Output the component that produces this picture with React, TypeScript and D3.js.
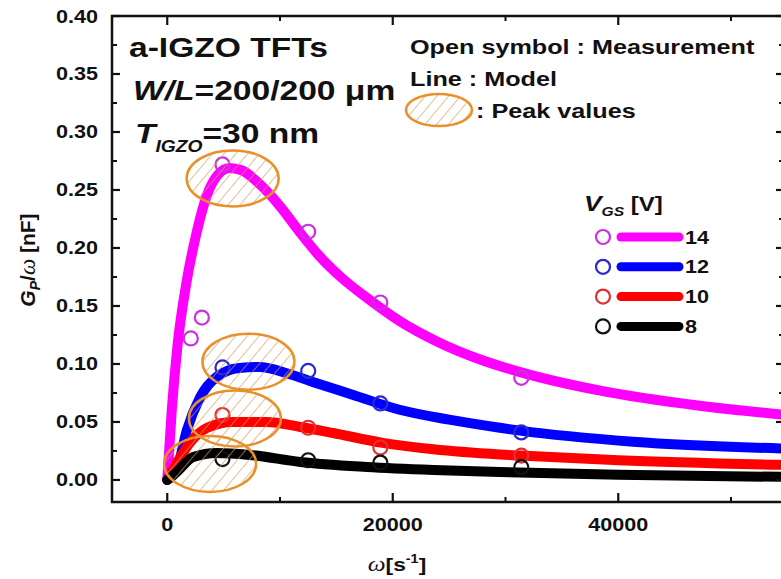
import * as d3 from "d3";
import * as React from "react";

// ---- data ----
const vgsLabels = ["14", "12", "10", "8"];
const lineColors = ["#ff00ff", "#0000ff", "#ff0000", "#000000"];
const markColors = ["#c833dd", "#2a2ad0", "#e03030", "#111111"];

// model curves [omega (1/s), Gp/omega (nF)]
const model14: [number, number][] = [
    [0, 0], [400, 0.06], [900, 0.115], [1700, 0.17], [2600, 0.213], [3500, 0.245],
    [4400, 0.262], [5500, 0.269], [6600, 0.267], [8200, 0.255], [10000, 0.236],
    [11800, 0.213], [13500, 0.193], [15500, 0.174], [17700, 0.157], [20600, 0.137],
    [24000, 0.119], [28000, 0.103], [31300, 0.093], [38400, 0.077], [47200, 0.064],
    [55000, 0.056],
];
const model12: [number, number][] = [
    [0, 0], [850, 0.009], [1740, 0.043], [2900, 0.071], [4400, 0.089], [6400, 0.0966],
    [8200, 0.0974], [10600, 0.092], [12900, 0.0845], [16500, 0.0733], [20600, 0.0605],
    [25000, 0.052], [29500, 0.045], [31300, 0.0425], [41300, 0.033], [55000, 0.027],
];
const model10: [number, number][] = [
    [0, 0], [850, 0.0147], [2000, 0.032], [3500, 0.0448], [5800, 0.05], [8800, 0.05],
    [11800, 0.0457], [14700, 0.0405], [19100, 0.032], [23600, 0.0265], [29500, 0.022],
    [31300, 0.021], [40000, 0.017], [55000, 0.0129],
];
const model8: [number, number][] = [
    [0, 0], [850, 0.0069], [2300, 0.0198], [4400, 0.0233], [7300, 0.0216], [11800, 0.0155],
    [17700, 0.0112], [23600, 0.0086], [29500, 0.0069], [40000, 0.0045], [55000, 0.0026],
];

// measurements (open symbols)
const meas14: [number, number][] = [[2090, 0.122], [3070, 0.14], [4900, 0.272], [12500, 0.214], [18900, 0.153], [31400, 0.088]];
const meas12: [number, number][] = [[4900, 0.097], [12500, 0.094], [18900, 0.066], [31400, 0.041]];
const meas10: [number, number][] = [[4900, 0.056], [12500, 0.045], [18900, 0.028], [31400, 0.021]];
const meas8: [number, number][] = [[4900, 0.018], [12500, 0.017], [18900, 0.015], [31400, 0.011]];

// centres of the hatched "peak value" ellipses
const peaks: [number, number][] = [[5800, 0.26], [7200, 0.102], [6000, 0.053], [3800, 0.0138]];

const models = [model14, model12, model10, model8];
const measurements = [meas14, meas12, meas10, meas8];

const xMajor = [0, 20000, 40000];
const xMinor = [10000, 30000, 50000];
const yMajor = [0, 0.05, 0.1, 0.15, 0.2, 0.25, 0.3, 0.35, 0.4];
const yMinor = [0.025, 0.075, 0.125, 0.175, 0.225, 0.275, 0.325, 0.375];

// ---- layout ----
const W = 781;
const H = 579;
const left = 112, right = 784, top = 16, bottom = 502;
const S = 1.2; // lettering in the source figure is stretched horizontally
const FONT = "'Liberation Sans', Arial, Helvetica, sans-serif";
const SERIF = "'Liberation Serif', 'Times New Roman', serif";

function Label(props: { x: number; y: number; size: number; anchor?: string; children: React.ReactNode }) {
    return (
        <g transform={`translate(${props.x},${props.y}) scale(${S},1)`}>
            <text fontSize={props.size} fontWeight="bold" fontFamily={FONT}
                textAnchor={props.anchor || "start"} fill="#111">
                {props.children}
            </text>
        </g>
    );
}

export default function App(): JSX.Element {
    const x = d3.scaleLinear().domain([-4900, 54700]).range([left, right]);
    const y = d3.scaleLinear().domain([-0.019, 0.4]).range([bottom, top]);

    const line = d3.line<[number, number]>()
        .x(d => x(d[0]))
        .y(d => y(d[1]))
        .curve(d3.curveMonotoneX);

    const legendX = 603, legendY = 237, legendStep = 29.8;

    return (
        <svg width={W} height={H} style={{ position: "absolute", left: 0, top: 0, background: "#fff" }}>
            <defs>
                <pattern id="hatch" width={9} height={9} patternUnits="userSpaceOnUse" patternTransform="rotate(40)">
                    <line x1={0} y1={0} x2={0} y2={9} stroke="#d99a5a" strokeWidth={1.3} />
                </pattern>
                <clipPath id="plot">
                    <rect x={left} y={top} width={right - left} height={bottom - top} />
                </clipPath>
            </defs>
            <rect x={0} y={0} width={W} height={H} fill="#fff" />

            <g clipPath="url(#plot)">
                {models.map((m, i) => (
                    <path key={"m" + i} d={line(m) || ""} fill="none" stroke={lineColors[i]}
                        strokeWidth={10} strokeLinecap="round" strokeLinejoin="round" />
                ))}
                {measurements.map((ms, i) => ms.map((d, j) => (
                    <circle key={"c" + i + "-" + j} cx={x(d[0])} cy={y(d[1])} r={7}
                        fill="none" stroke={markColors[i]} strokeWidth={2.2} />
                )))}
                {peaks.map((p, i) => (
                    <ellipse key={"e" + i} cx={x(p[0])} cy={y(p[1])} rx={46} ry={28}
                        fill="url(#hatch)" stroke="#e8902a" strokeWidth={2.5} />
                ))}
            </g>

            {/* frame */}
            <rect x={left} y={top} width={right - left} height={bottom - top} fill="none" stroke="#111" strokeWidth={2.5} />

            {/* x ticks, bottom and top, pointing inward */}
            {xMajor.map(t => (
                <g key={"xM" + t}>
                    <line x1={x(t)} x2={x(t)} y1={bottom} y2={bottom - 9} stroke="#111" strokeWidth={2.2} />
                    <line x1={x(t)} x2={x(t)} y1={top} y2={top + 9} stroke="#111" strokeWidth={2.2} />
                    <Label x={x(t)} y={531} size={18} anchor="middle">{String(t)}</Label>
                </g>
            ))}
            {xMinor.map(t => (
                <g key={"xm" + t}>
                    <line x1={x(t)} x2={x(t)} y1={bottom} y2={bottom - 5} stroke="#111" strokeWidth={2} />
                    <line x1={x(t)} x2={x(t)} y1={top} y2={top + 5} stroke="#111" strokeWidth={2} />
                </g>
            ))}

            {/* y ticks, left and right */}
            {yMajor.map(t => (
                <g key={"yM" + t}>
                    <line x1={left} x2={left + 8} y1={y(t)} y2={y(t)} stroke="#111" strokeWidth={2.2} />
                    <line x1={right} x2={right - 8} y1={y(t)} y2={y(t)} stroke="#111" strokeWidth={2.2} />
                    <Label x={98} y={y(t) + 6.5} size={18} anchor="end">{d3.format(".2f")(t)}</Label>
                </g>
            ))}
            {yMinor.map(t => (
                <g key={"ym" + t}>
                    <line x1={left} x2={left + 5} y1={y(t)} y2={y(t)} stroke="#111" strokeWidth={2} />
                    <line x1={right} x2={right - 5} y1={y(t)} y2={y(t)} stroke="#111" strokeWidth={2} />
                </g>
            ))}

            {/* axis titles */}
            <g transform={`translate(397,571) scale(${S},1)`}>
                <text textAnchor="middle" fontSize={19} fontWeight="bold" fontFamily={FONT} fill="#111">
                    <tspan fontFamily={SERIF} fontStyle="italic" fontWeight="normal" fontSize={21}>ω</tspan>
                    <tspan>[s</tspan>
                    <tspan fontSize={12} dy={-8}>-1</tspan>
                    <tspan dy={8}>]</tspan>
                </text>
            </g>
            <g transform="translate(35,260) rotate(-90)">
                <text textAnchor="middle" fontSize={21} fontWeight="bold" fontFamily={FONT} fill="#111">
                    <tspan fontStyle="italic">G</tspan>
                    <tspan fontStyle="italic" fontSize={14} dy={5}>P</tspan>
                    <tspan dy={-5}>/</tspan>
                    <tspan fontFamily={SERIF} fontStyle="italic" fontWeight="normal" fontSize={23}>ω</tspan>
                    <tspan> [nF]</tspan>
                </text>
            </g>

            {/* device annotations */}
            <Label x={129} y={57} size={28}>a-IGZO TFTs</Label>
            <Label x={133} y={100} size={28}>
                <tspan fontStyle="italic">W/L</tspan>=200/200 μm
            </Label>
            <Label x={135} y={143} size={28}>
                <tspan fontStyle="italic">T</tspan>
                <tspan fontStyle="italic" fontSize={16} dy={9}>IGZO</tspan>
                <tspan dy={-9}>=30 nm</tspan>
            </Label>

            <Label x={410} y={54} size={21}>Open symbol : Measurement</Label>
            <Label x={410} y={86} size={21}>Line : Model</Label>
            <ellipse cx={439} cy={110} rx={33} ry={16} fill="url(#hatch)" stroke="#e8902a" strokeWidth={2.5} />
            <Label x={476} y={118} size={21}>: Peak values</Label>

            {/* legend */}
            <Label x={584} y={211} size={20}>
                <tspan fontStyle="italic" fontSize={22}>V</tspan>
                <tspan fontStyle="italic" fontSize={13} dy={5}>GS</tspan>
                <tspan dy={-5}> [V]</tspan>
            </Label>
            {vgsLabels.map((v, i) => {
                const ly = legendY + i * legendStep;
                return (
                    <g key={"lg" + v}>
                        <circle cx={legendX} cy={ly} r={7} fill="none" stroke={markColors[i]} strokeWidth={2.2} />
                        <line x1={legendX + 18} x2={legendX + 76} y1={ly} y2={ly} stroke={lineColors[i]}
                            strokeWidth={9} strokeLinecap="round" />
                        <Label x={legendX + 82} y={ly + 6.5} size={18}>{v}</Label>
                    </g>
                );
            })}
        </svg>
    );
}
